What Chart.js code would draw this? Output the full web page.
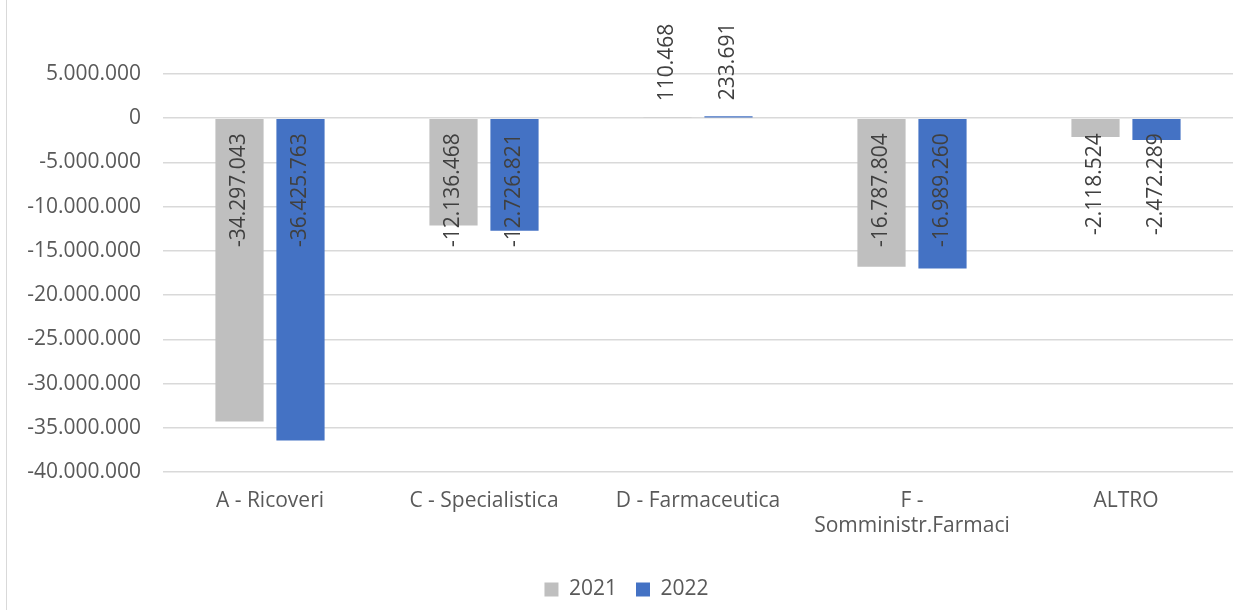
<!DOCTYPE html>
<html>
<head>
<meta charset="utf-8">
<script src="https://cdn.jsdelivr.net/npm/chart.js@4.4.1/dist/chart.umd.min.js"></script>
<style>
  body { margin: 0; background: #fff; }
  #wrap { position: relative; width: 1243px; height: 610px; }
  #frame { position: absolute; left: 6px; top: 0; width: 1px; height: 610px; background: #d9d9d9; }
</style>
</head>
<body>
<div id="wrap">
  <div id="frame"></div>
  <canvas id="myChart"></canvas>
</div>
<script>
const categories = ['A - Ricoveri', 'C - Specialistica', 'D - Farmaceutica', ['F -', 'Somministr.Farmaci'], 'ALTRO'];
const values2021 = [-34297043, -12136468, 110468, -16787804, -2118524];
const values2022 = [-36425763, -12726821, 233691, -16989260, -2472289];
const seriesNames = ['2021', '2022'];

const fontFamily = '"Open Sans", sans-serif';
const fontSize = 21;

function fmt(v) {
    const s = Math.abs(Math.round(v)).toString().replace(/\B(?=(\d{3})+(?!\d))/g, '.');
    return (v < 0 ? '-' : '') + s;
}

// value labels, rotated, like the Excel "inside base" position
const barLabels = {
    id: 'barLabels',
    afterDatasetsDraw(chart) {
        const ctx = chart.ctx;
        const zero = chart.scales.y.getPixelForValue(0);
        ctx.save();
        ctx.font = fontSize + 'px ' + fontFamily;
        ctx.fillStyle = '#404040';
        ctx.textBaseline = 'middle';
        chart.data.datasets.forEach((ds, i) => {
            chart.getDatasetMeta(i).data.forEach((bar, j) => {
                const v = ds.data[j];
                ctx.save();
                if (v < 0) {
                    ctx.translate(bar.x, zero + 15);
                    ctx.rotate(-Math.PI / 2);
                    ctx.textAlign = 'right';
                } else {
                    ctx.translate(bar.x, bar.y - 16);
                    ctx.rotate(-Math.PI / 2);
                    ctx.textAlign = 'left';
                }
                ctx.fillText(fmt(v), 0, 0);
                ctx.restore();
            });
        });
        ctx.restore();
    }
};

const data = {
    labels: categories,
    datasets: [{
        label: seriesNames[0],
        data: values2021,
        backgroundColor: '#bfbfbf'
    }, {
        label: seriesNames[1],
        data: values2022,
        backgroundColor: '#4472c4'
    }]
};

const config = {
    type: 'bar',
    data: data,
    plugins: [barLabels],
    options: {
        responsive: true,
        maintainAspectRatio: false,
        animation: false,
        categoryPercentage: 0.57,
        barPercentage: 0.79,
        layout: { padding: { top: 74, right: 10, left: 20, bottom: 0 } },
        plugins: {
            tooltip: { enabled: false },
            legend: {
                position: 'bottom',
                labels: {
                    boxWidth: 14,
                    boxHeight: 14,
                    padding: 19,
                    color: '#595959',
                    font: { family: fontFamily, size: fontSize }
                }
            }
        },
        scales: {
            x: {
                grid: { display: false },
                border: { display: false },
                ticks: {
                    color: '#595959',
                    padding: 8,
                    maxRotation: 0,
                    font: { family: fontFamily, size: fontSize }
                },
                afterFit(scale) { scale.height = 88; }
            },
            y: {
                min: -40000000,
                max: 5000000,
                ticks: {
                    stepSize: 5000000,
                    color: '#595959',
                    padding: 22,
                    font: { family: fontFamily, size: fontSize },
                    callback: (v) => fmt(v)
                },
                grid: { color: '#d9d9d9', lineWidth: 1.5, drawTicks: false },
                border: { display: false },
                afterFit(scale) { scale.width = 143; }
            }
        }
    }
};

new Chart(document.getElementById('myChart'), config);
</script>
</body>
</html>
